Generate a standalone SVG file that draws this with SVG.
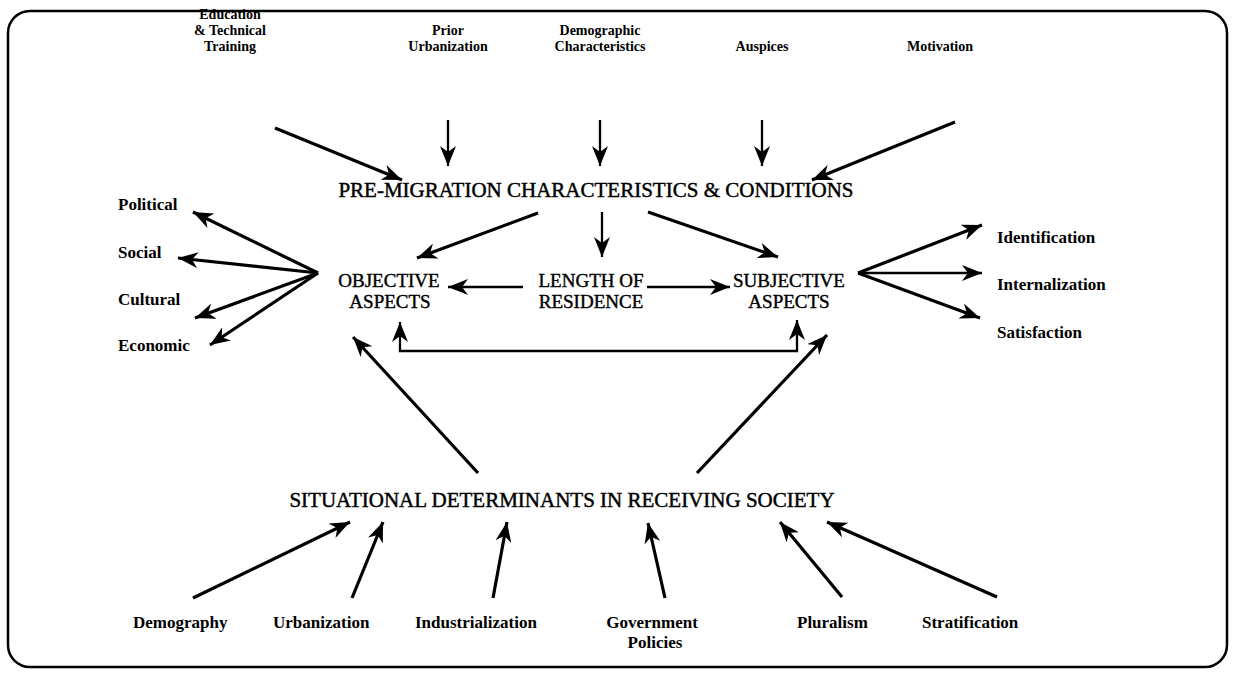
<svg xmlns="http://www.w3.org/2000/svg" width="1235" height="674" viewBox="0 0 1235 674">
<style>
.lbl{font-family:"Liberation Serif","Times New Roman",serif;font-weight:bold;font-size:17px;fill:#000}
.top{font-family:"Liberation Serif","Times New Roman",serif;font-weight:bold;font-size:14px;fill:#000;text-anchor:middle}
.mid{font-family:"Liberation Serif","Times New Roman",serif;font-size:19px;fill:#000;stroke:#000;stroke-width:0.4;text-anchor:middle}
.big{font-family:"Liberation Serif","Times New Roman",serif;font-size:21px;fill:#000;stroke:#000;stroke-width:0.45;text-anchor:middle}
.c{text-anchor:middle}
.ln{stroke:#000;stroke-width:3.2;fill:none;marker-end:url(#ah)}
.thin{stroke:#000;stroke-width:2.3;fill:none;marker-end:url(#ah)}
</style>
<defs>
<marker id="ah" markerUnits="userSpaceOnUse" markerWidth="22" markerHeight="16" refX="20" refY="8" orient="auto-start-reverse" viewBox="0 0 22 16">
<path d="M0,0 L20,8 L0,16 L6,8 Z" fill="#000"/>
</marker>
</defs>
<rect x="8" y="11" width="1219" height="656" rx="22" ry="22" fill="#fff" stroke="#000" stroke-width="2.5"/>

<g id="connectors">
<line class="ln" x1="275" y1="128" x2="402" y2="180"/>
<line class="thin" x1="448" y1="120" x2="448" y2="166"/>
<line class="thin" x1="600" y1="120" x2="600" y2="166"/>
<line class="thin" x1="762" y1="120" x2="762" y2="166"/>
<line class="ln" x1="955" y1="122" x2="812" y2="180"/>

<line class="ln" x1="538" y1="213" x2="417" y2="258"/>
<line class="thin" x1="602" y1="212" x2="602" y2="257"/>
<line class="ln" x1="648" y1="212" x2="778" y2="257"/>

<line class="thin" x1="523" y1="287" x2="448" y2="287"/>
<line class="thin" x1="647" y1="287" x2="730" y2="287"/>

<path class="thin" d="M400,322 L400,351 L797,351 L797,320" style="marker-start:url(#ah)"/>

<line class="ln" x1="318" y1="273" x2="193" y2="212"/>
<line class="ln" x1="318" y1="273" x2="178" y2="258"/>
<line class="ln" x1="318" y1="273" x2="195" y2="318"/>
<line class="ln" x1="318" y1="273" x2="210" y2="345"/>

<line class="ln" x1="858" y1="273" x2="982" y2="225"/>
<line class="thin" x1="858" y1="273" x2="982" y2="273"/>
<line class="ln" x1="858" y1="273" x2="980" y2="318"/>

<line class="ln" x1="478" y1="473" x2="353" y2="337"/>
<line class="ln" x1="697" y1="473" x2="827" y2="335"/>

<line class="ln" x1="193" y1="598" x2="350" y2="522"/>
<line class="ln" x1="352" y1="598" x2="383" y2="522"/>
<line class="ln" x1="493" y1="598" x2="507" y2="522"/>
<line class="ln" x1="665" y1="598" x2="648" y2="523"/>
<line class="ln" x1="842" y1="597" x2="780" y2="522"/>
<line class="ln" x1="997" y1="597" x2="827" y2="522"/>
</g>

<g id="education"><text class="top" x="230" y="19">Education</text><text class="top" x="230" y="35">&amp; Technical</text><text class="top" x="230" y="51">Training</text></g>
<g id="prior-urbanization"><text class="top" x="448" y="35">Prior</text><text class="top" x="448" y="51">Urbanization</text></g>
<g id="demographic"><text class="top" x="600" y="35">Demographic</text><text class="top" x="600" y="51">Characteristics</text></g>
<g id="auspices"><text class="top" x="762" y="51">Auspices</text></g>
<g id="motivation"><text class="top" x="940" y="51">Motivation</text></g>

<g id="pre-migration"><text class="big" x="596" y="197">PRE-MIGRATION CHARACTERISTICS &amp; CONDITIONS</text></g>

<g id="political"><text class="lbl" x="118" y="210">Political</text></g>
<g id="social"><text class="lbl" x="118" y="258">Social</text></g>
<g id="cultural"><text class="lbl" x="118" y="305">Cultural</text></g>
<g id="economic"><text class="lbl" x="118" y="351">Economic</text></g>

<g id="objective"><text class="mid" x="389" y="287">OBJECTIVE</text><text class="mid" x="390" y="308">ASPECTS</text></g>
<g id="length"><text class="mid" x="591" y="287">LENGTH OF</text><text class="mid" x="591" y="308">RESIDENCE</text></g>
<g id="subjective"><text class="mid" x="789" y="287">SUBJECTIVE</text><text class="mid" x="789" y="308">ASPECTS</text></g>

<g id="identification"><text class="lbl" x="997" y="243">Identification</text></g>
<g id="internalization"><text class="lbl" x="997" y="290">Internalization</text></g>
<g id="satisfaction"><text class="lbl" x="997" y="338">Satisfaction</text></g>

<g id="situational"><text class="big" x="562" y="507">SITUATIONAL DETERMINANTS IN RECEIVING SOCIETY</text></g>

<g id="demography"><text class="lbl" x="133" y="628">Demography</text></g>
<g id="urbanization"><text class="lbl" x="273" y="628">Urbanization</text></g>
<g id="industrialization"><text class="lbl" x="415" y="628">Industrialization</text></g>
<g id="government"><text class="lbl c" x="652" y="628">Government</text><text class="lbl c" x="655" y="648">Policies</text></g>
<g id="pluralism"><text class="lbl" x="797" y="628">Pluralism</text></g>
<g id="stratification"><text class="lbl" x="922" y="628">Stratification</text></g>
</svg>
